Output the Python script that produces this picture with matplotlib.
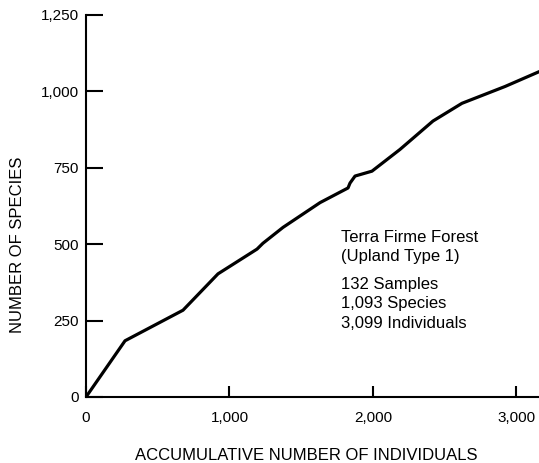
import matplotlib
matplotlib.use('Agg')
import matplotlib.pyplot as plt

# Data
individuals = [0, 272, 676, 920, 1192, 1233, 1373, 1631, 1826, 1840, 1875, 1993,
               2188, 2418, 2620, 2920, 3160]
species = [0, 184, 284, 403, 484, 503, 555, 636, 684, 700, 723, 739,
           810, 903, 961, 1016, 1065]

x_ticks = [0, 1000, 2000, 3000]
x_labels = ['0', '1,000', '2,000', '3,000']
y_ticks = [0, 250, 500, 750, 1000, 1250]
y_labels = ['0', '250', '500', '750', '1,000', '1,250']

note_title = 'Terra Firme Forest\n(Upland Type 1)'
note_stats = '132 Samples\n1,093 Species\n3,099 Individuals'

plt.rcParams['font.family'] = ['Liberation Sans', 'DejaVu Sans']

fig = plt.figure(figsize=(5.39, 4.63), dpi=100)
ax = fig.add_axes([86/539, 66/463, 453/539, 382/463])

ax.plot(individuals, species, color='black', linewidth=2.3, solid_capstyle='round')

ax.set_xlim(0, 3157)
ax.set_ylim(0, 1250)

ax.spines['top'].set_visible(False)
ax.spines['right'].set_visible(False)
ax.spines['left'].set_linewidth(1.5)
ax.spines['bottom'].set_linewidth(1.5)

ax.set_xticks(x_ticks)
ax.set_xticklabels(x_labels, fontsize=11)
ax.set_yticks(y_ticks)
ax.set_yticklabels(y_labels, fontsize=11)
ax.tick_params(axis='y', direction='in', length=12, width=1.5, pad=5)
ax.tick_params(axis='x', direction='in', length=8, width=1.5, pad=10)

ax.set_xlabel('ACCUMULATIVE NUMBER OF INDIVIDUALS', fontsize=12, va='center')
ax.xaxis.set_label_coords(0.486, -0.154)
ax.set_ylabel('NUMBER OF SPECIES', fontsize=12, va='center')
ax.yaxis.set_label_coords(-0.152, 0.398)

ax.text(1777, 547, note_title, fontsize=12, va='top', ha='left', linespacing=1.35)
ax.text(1777, 394, note_stats, fontsize=12, va='top', ha='left', linespacing=1.38)

fig.savefig('out.png', dpi=100)
